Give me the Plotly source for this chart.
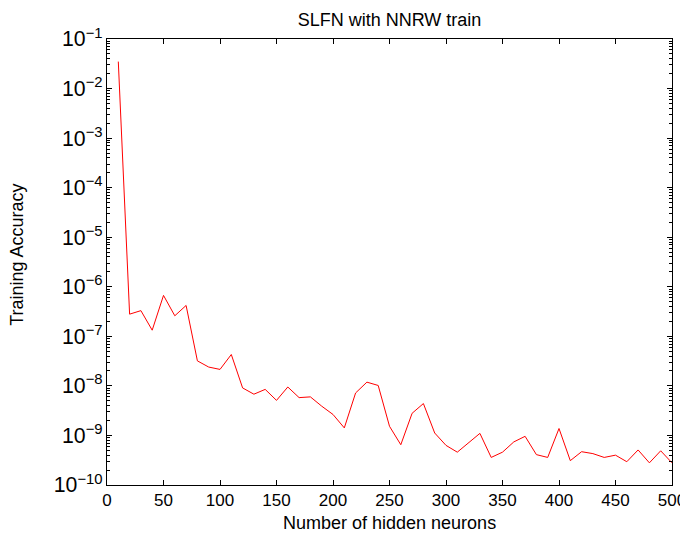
import plotly.graph_objects as go

neurons = list(range(10, 501, 10))
accuracy = [
    3.5e-2, 2.8e-7, 3.3e-7, 1.33e-7, 6.7e-7, 2.6e-7, 4.2e-7, 3.2e-8, 2.4e-8, 2.15e-8,
    4.3e-8, 9.1e-9, 6.8e-9, 8.5e-9, 5.1e-9, 9.5e-9, 5.8e-9, 6.0e-9, 3.9e-9, 2.65e-9,
    1.42e-9, 7.2e-9, 1.19e-8, 1.02e-8, 1.53e-9, 6.5e-10, 2.8e-9, 4.4e-9, 1.12e-9, 6.3e-10,
    4.6e-10, 7.2e-10, 1.1e-9, 3.6e-10, 4.6e-10, 7.4e-10, 9.6e-10, 4.1e-10, 3.6e-10, 1.38e-9,
    3.1e-10, 4.7e-10, 4.3e-10, 3.6e-10, 4.0e-10, 2.95e-10, 5.1e-10, 2.8e-10, 4.9e-10, 2.8e-10,
]

font = "Liberation Sans, Arial, sans-serif"

# the page body adds an 8px margin, so the figure is sized to fit inside it
fig = go.Figure()
fig.add_trace(go.Scatter(x=neurons, y=accuracy, mode="lines",
                         line=dict(color="#ff0000", width=1)))

fig.update_layout(
    width=680, height=526,
    margin=dict(l=99, r=16, t=31, b=49),
    paper_bgcolor="white", plot_bgcolor="white",
    showlegend=False,
    font=dict(family=font, size=17, color="black"),
    title=dict(text="SLFN with NNRW train", x=0.5, xref="paper",
               y=1 - 12 / 526, yref="container", yanchor="middle",
               font=dict(size=18)),
)
# axis titles as annotations so they sit where the reference has them
fig.add_annotation(text="Number of hidden neurons", xref="paper", yref="paper",
                   x=0.5, y=0, yshift=-38, xanchor="center", yanchor="middle",
                   showarrow=False, font=dict(size=18))
fig.add_annotation(text="Training Accuracy", xref="paper", yref="paper",
                   x=0, y=0.516, xshift=-90, xanchor="center", yanchor="middle",
                   textangle=-90, showarrow=False, font=dict(size=18))

fig.update_xaxes(
    range=[0, 500], tick0=0, dtick=50,
    showline=True, linecolor="black", linewidth=1, mirror="ticks",
    ticks="inside", ticklen=5, tickcolor="black",
    showgrid=False, zeroline=False, automargin=False,
)
fig.update_yaxes(
    type="log", range=[-10, -1], dtick=1,
    exponentformat="power", showexponent="all",
    showline=True, linecolor="black", linewidth=1, mirror="ticks",
    ticks="inside", ticklen=5, tickcolor="black",
    minor=dict(ticks="inside", ticklen=3, dtick="D1", tickcolor="black", showgrid=False),
    showgrid=False, zeroline=False, automargin=False,
)

fig.write_html("out.html")
